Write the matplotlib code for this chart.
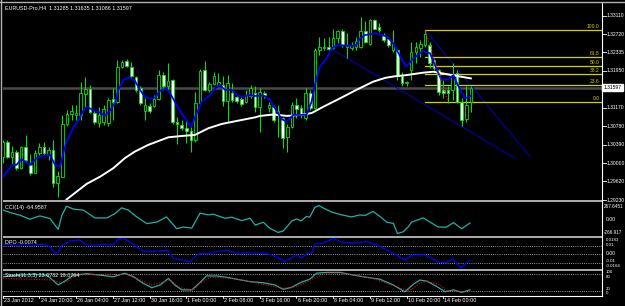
import matplotlib
matplotlib.use("Agg")
import matplotlib.pyplot as plt
from matplotlib.lines import Line2D
from matplotlib.patches import Rectangle

# ---------------- data ----------------
opens = [1.3014,1.3046,1.3014,1.3025,1.2990,1.3034,1.2997,1.2980,1.3021,1.3034,
1.3018,1.3028,1.2959,1.2972,1.3083,1.3104,1.3102,1.3102,1.3146,1.3156,
1.3106,1.3086,1.3088,1.3086,1.3135,1.3130,1.3202,1.3216,1.3204,1.3181,
1.3158,1.3111,1.3121,1.3121,1.3135,1.3186,1.3162,1.3176,1.3088,1.3081,
1.3075,1.3069,1.3049,1.3127,1.3197,1.3155,1.3167,1.3165,1.3165,1.3132,
1.3149,1.3140,1.3135,1.3130,1.3142,1.3148,1.3119,1.3149,1.3117,1.3119,
1.3102,1.3095,1.3056,1.3077,1.3123,1.3116,1.3095,1.3148,1.3116,1.3239,
1.3242,1.3246,1.3242,1.3265,1.3279,1.3246,1.3244,1.3246,1.3246,1.3279,
1.3251,1.3302,1.3288,1.3270,1.3261,1.3239,1.3239,1.3183,1.3169,1.3197,
1.3235,1.3244,1.3249,1.3249,1.3218,1.3197,1.3155,1.3155,1.3155,1.3190,
1.3130,1.3093,1.31285]
highs = [1.3049,1.3049,1.3037,1.3028,1.3037,1.3060,1.3020,1.3028,1.3042,1.3046,
1.3035,1.3049,1.2983,1.3102,1.3112,1.3123,1.3123,1.3172,1.3181,1.3165,
1.3112,1.3119,1.3123,1.3137,1.3158,1.3218,1.3218,1.3219,1.3214,1.3184,
1.3162,1.3137,1.3127,1.3144,1.3197,1.3193,1.3212,1.3177,1.3098,1.3091,
1.3091,1.3077,1.3151,1.3198,1.3216,1.3172,1.3193,1.3190,1.3184,1.3186,
1.3169,1.3144,1.3139,1.3155,1.3165,1.3162,1.3158,1.3152,1.3130,1.3124,
1.3123,1.3098,1.3082,1.3130,1.3137,1.3123,1.3158,1.3155,1.3242,1.3267,
1.3263,1.3267,1.3284,1.3281,1.3284,1.3274,1.3255,1.3267,1.3309,1.3300,
1.3305,1.3305,1.3295,1.3274,1.3263,1.3281,1.3240,1.3193,1.3173,1.3256,
1.3256,1.3260,1.3281,1.3256,1.3221,1.3198,1.3176,1.3162,1.3211,1.3197,
1.3137,1.3162,1.31635]
lows = [1.3000,1.3011,1.2997,1.2986,1.2988,1.3004,1.2976,1.2979,1.3018,1.3018,
1.3007,1.2951,1.2930,1.2971,1.3079,1.3091,1.3091,1.3091,1.3119,1.3107,
1.3084,1.3076,1.3081,1.3079,1.3091,1.3127,1.3200,1.3204,1.3179,1.3151,
1.3123,1.3091,1.3107,1.3118,1.3134,1.3155,1.3155,1.3084,1.3041,1.3070,
1.3042,1.3025,1.3046,1.3123,1.3153,1.3151,1.3165,1.3162,1.3121,1.3088,
1.3130,1.3128,1.3121,1.3127,1.3137,1.3109,1.3067,1.3137,1.3109,1.3087,
1.3056,1.3032,1.3025,1.3074,1.3095,1.3095,1.3091,1.3112,1.3115,1.3228,
1.3239,1.3239,1.3241,1.3253,1.3246,1.3221,1.3239,1.3239,1.3244,1.3253,
1.3249,1.3283,1.3277,1.3256,1.3246,1.3235,1.3176,1.3162,1.3162,1.3176,
1.3211,1.3225,1.3246,1.3200,1.3197,1.3144,1.3137,1.3127,1.3134,1.3127,
1.3079,1.3088,1.31086]
closes = [1.3046,1.3014,1.3025,1.2990,1.3034,1.3007,1.2980,1.3021,1.3034,1.3021,
1.3028,1.2959,1.2974,1.3083,1.3104,1.3110,1.3106,1.3148,1.3156,1.3109,
1.3087,1.3102,1.3114,1.3134,1.3130,1.3202,1.3214,1.3205,1.3183,1.3155,
1.3127,1.3123,1.3111,1.3135,1.3186,1.3162,1.3173,1.3088,1.3083,1.3074,
1.3068,1.3049,1.3127,1.3195,1.3155,1.3167,1.3183,1.3172,1.3132,1.3169,
1.3134,1.3132,1.3125,1.3144,1.3158,1.3119,1.3150,1.3143,1.3124,1.3091,
1.3110,1.3054,1.3077,1.3123,1.3115,1.3102,1.3148,1.3117,1.3239,1.3246,
1.3246,1.3241,1.3265,1.3279,1.3249,1.3249,1.3249,1.3258,1.3279,1.3256,
1.3302,1.3284,1.3281,1.3260,1.3249,1.3251,1.3183,1.3169,1.3171,1.3235,
1.3246,1.3251,1.3272,1.3211,1.3200,1.3151,1.3148,1.3149,1.3186,1.3130,
1.3091,1.3123,1.31597]

# fast (blue) moving average, vertices (bar, price)
ma_fast_x = [0.1,2.0,3.0,4.1,5.9,7.4,8.8,10.3,11.4,12.5,13.2,13.9,15.4,16.5,17.6,18.4,19.7,21.2,22.3,23.4,
             24.5,25.2,26.3,27.6,28.8,29.9,31.0,32.1,33.2,34.3,35.7,36.8,38.3,39.7,41.0,42.3,43.4,45.2,46.3,47.3,
             48.4,49.9,51.3,52.4,53.5,55.0,56.8,58.2,59.7,60.8,61.9,63.3,64.8,66.2,67.3,68.0,69.1,70.6,71.7,72.9,
             75.7,77.0,77.8,78.9,81.1,82.6,83.7,85.1,86.6,87.9,89.5,91.6,93.1,94.6,95.6,97.1,98.2,99.3,100.7,102.0]
ma_fast_y = [1.2972,1.2997,1.2997,1.3009,1.2997,1.3011,1.3016,1.3018,1.2997,1.2993,1.3021,1.3046,1.3076,1.3091,1.3112,1.3119,1.3112,1.3107,1.3100,1.3112,
             1.3127,1.3155,1.3176,1.3181,1.3174,1.3155,1.3140,1.3136,1.3139,1.3153,1.3158,1.3142,1.3116,1.3095,1.3077,1.3106,1.3130,1.3144,1.3158,1.3165,
             1.3155,1.3155,1.3142,1.3140,1.3144,1.3142,1.3143,1.3134,1.3110,1.3093,1.3088,1.3102,1.3102,1.3103,1.3130,1.3165,1.3204,1.3221,1.3242,1.3249,
             1.3248,1.3248,1.3263,1.3270,1.3274,1.3270,1.3267,1.3253,1.3225,1.3204,1.3221,1.3237,1.3232,1.3197,1.3176,1.3177,1.3186,1.3162,1.3137,1.3142]

# slow (white) moving average, vertices (bar, price)
ma_slow_x = [13.9,18.3,21.2,24.1,26.6,28.8,31.7,36.1,39.3,41.9,44.8,47.7,51.3,55.0,56.1,59.0,61.9,64.8,67.3,69.8,
             73.5,77.1,80.7,83.3,85.1,88.0,91.6,93.8,96.7,99.6,102.0]
ma_slow_y = [1.2924,1.2957,1.2972,1.2990,1.3011,1.3025,1.3039,1.3055,1.3058,1.3060,1.3074,1.3083,1.3090,1.3097,1.3100,1.3103,1.3100,1.3102,1.3106,1.3119,
             1.3137,1.3155,1.3172,1.3180,1.3183,1.3186,1.3191,1.3193,1.3188,1.3183,1.3179]

# drawn objects
trend_x = [[72.0, 111.6], [92.0, 114.9]]
trend_y = [[1.3239, 1.3011], [1.3281, 1.3014]]
fib_bars = [92, 97]
fib_prices = [1.3281, 1.3130]
fib_levels = [0.0, 23.6, 38.2, 50.0, 61.8, 100.0]
last_price = 1.31597

# CCI(14)
cci_x = [0.1,2.3,3.8,5.9,8.1,10.3,12.1,12.9,13.9,15.4,17.6,20.1,22.7,24.5,25.9,27.4,29.2,31.4,33.6,35.7,
         37.9,39.3,41.2,41.9,43.0,44.8,45.9,48.4,49.9,52.1,53.9,55.0,56.8,58.2,60.0,61.1,63.0,64.1,65.0,66.2,
         66.9,68.0,68.9,69.9,71.7,73.9,76.0,77.8,78.9,80.7,82.2,83.7,85.1,86.0,87.3,88.4,89.1,90.2,91.6,93.1,
         94.9,96.7,98.2,100.0,101.8]
cci_y = [180,116,83,6,70,19,-188,83,255,200,180,31,31,116,225,180,50,-78,-47,50,
         -175,-144,-163,-52,122,89,103,25,45,-19,25,-105,-52,-169,-246,-221,-27,12,-27,58,
         45,233,267.6,219,142,89,50,89,78,155,58,-52,-72,-266.9,-233,-136,-47,-14,31,-47,
         -144,-144,-58,-175,-64.96]

# DPO
dpo_x = [0.1,3.8,6.7,8.8,10.3,11.4,12.1,12.9,14.7,16.8,18.3,20.5,22.7,24.1,25.2,26.6,28.1,29.2,30.6,32.1,
         33.9,35.7,37.2,39.0,40.8,42.3,43.0,44.4,46.6,48.8,51.0,53.2,55.7,57.1,58.6,60.4,61.5,62.6,64.1,65.1,
         66.2,67.3,68.0,69.8,72.0,74.2,77.1,79.3,81.5,83.7,85.8,87.6,89.1,92.0,93.5,94.9,96.7,98.0,99.8,101.8]
dpo_y = [0.0114,0.0106,0.0106,0.0114,0.0086,0.0008,0.0020,0.0106,0.0153,0.0165,0.0106,0.0106,0.0114,0.0106,0.0178,0.0175,0.0126,0.0086,0.0035,0.0027,
         0.0035,0.0047,-0.0051,-0.0071,-0.0091,-0.0012,0.0008,0.0000,0.0027,0.0047,0.0008,0.0015,0.0008,0.0015,-0.0012,-0.0051,-0.0091,-0.0051,-0.0012,-0.0051,
         0.0008,0.0008,0.0118,0.0126,0.0183,0.0133,0.0133,0.0145,0.0106,0.0047,-0.0012,-0.0071,-0.0012,-0.0012,-0.0051,-0.0098,-0.0098,-0.0059,-0.0160,-0.0074]

# Stochastic(11,3,3)
st_main_x = [0.1,3.8,6.7,9.6,12.1,13.9,15.4,18.3,21.2,24.1,26.6,28.5,30.6,32.5,34.3,36.1,37.5,39.0,41.2,43.0,
             44.4,46.6,48.8,51.0,53.9,56.8,59.3,61.1,62.9,64.8,66.9,68.4,70.6,73.5,76.4,79.3,82.2,85.1,87.6,89.5,
             90.9,92.4,94.6,96.4,98.2,100.0,101.8]
st_main_y = [71,77,80,77,41,59,77,82,77,71,84,71,47,31,41,65,41,23,23,50,
             74,74,69,62,53,49,41,25,32,49,62,84,87,87,77,69,62,41,16,44,
             59,55,35,16,23,14,23.08]
st_sig_x = [0.1,11.0,12.1,13.9,15.8,21.2,27.0,29.9,32.5,36.5,38.6,41.5,43.0,45.2,50.2,61.1,64.1,67.7,70.6,74.2,
            80.7,86.6,88.7,90.9,92.4,95.3,96.7,98.9,101.1,101.8]
st_sig_y = [65,59,51,51,77,80,80,59,41,59,31,23,47,69,65,29,35,65,84,84,
            65,29,21,47,55,41,19,19,14,19.08]

time_labels = ["23 Jan 2012", "24 Jan 20:00", "26 Jan 04:00", "27 Jan 12:00", "30 Jan 16:00",
               "1 Feb 00:00", "2 Feb 08:00", "3 Feb 16:00", "6 Feb 20:00", "8 Feb 04:00",
               "9 Feb 12:00", "10 Feb 20:00", "14 Feb 00:00"]
time_label_bars = [0, 8, 16, 24, 32, 40, 48, 56, 64, 72, 80, 88, 96]
price_ticks = [1.33110, 1.32720, 1.32335, 1.31950, 1.31170, 1.30780, 1.30390, 1.30000, 1.29620, 1.29230]
price_tick_labels = ["1.33110", "1.32720", "1.32335", "1.31950", "1.31170", "1.30780", "1.30390", "1.30000", "1.29620", "1.29230"]

title_text = "EURUSD-Pro,H4  1.31285 1.31635 1.31086 1.31597"

# ---------------- figure ----------------
W, H = 625, 306
fig = plt.figure(figsize=(W / 100, H / 100), dpi=100, facecolor="black")
FONT = "Liberation Sans"
FS = 3.9
WHITE = "#ffffff"

def add_ax(top, bottom):
    ax = fig.add_axes([3 / W, 1 - bottom / H, 599 / W, (bottom - top) / H])
    ax.set_facecolor("black")
    for s in ax.spines.values():
        s.set_visible(False)
    ax.set_xticks([]); ax.set_yticks([])
    ax.set_xlim(0.065, 130.57)
    return ax

def ftext(x, y, s, **kw):
    kw.setdefault("color", WHITE)
    kw.setdefault("fontsize", FS)
    kw.setdefault("family", FONT)
    fig.text(x / W, 1 - y / H, s, **kw)

ax = add_ax(3, 200)
ax.set_ylim(1.29230, 1.33377)

# current price line
ax.axhline(last_price, color="#4a4a4a", lw=1.8, zorder=1)

# candles
up_col = "#00e600"
for i in range(len(opens)):
    o, h, l, c = opens[i], highs[i], lows[i], closes[i]
    ax.vlines(i, l, h, color=up_col, lw=0.75, zorder=3)
    bot = min(o, c)
    hgt = max(abs(c - o), 0.00004)
    ax.bar(i, hgt, bottom=bot, width=0.56, facecolor=("white" if c < o else "black"),
           edgecolor=up_col, linewidth=0.6, zorder=4)

ax.plot(ma_slow_x, ma_slow_y, color="white", lw=1.4, zorder=5)
ax.plot(ma_fast_x, ma_fast_y, color="#0000ff", lw=1.3, zorder=5)

for tx, ty in zip(trend_x, trend_y):
    ax.plot(tx, ty, color="#0000c8", lw=0.7, zorder=2)

# fibonacci
fh, fl = fib_prices[0], fib_prices[1]
for lv in fib_levels:
    p = fl + (fh - fl) * lv / 100.0
    ax.plot([fib_bars[0], 130.57], [p, p], color="#d0d000", lw=0.9, zorder=2)
    ax.text(130.1, p + 0.00018, f"{lv:.1f}", color="#d0d000", fontsize=3.6, family=FONT,
            ha="right", va="bottom", zorder=6)
ax.plot(fib_bars, fib_prices, color="#ff0000", lw=0.8, ls=(0, (1, 1.5)), zorder=6)

# price axis labels
ytr = ax.get_yaxis_transform()
for p, lab in zip(price_ticks, price_tick_labels):
    ax.plot([1.0, 1.006], [p, p], color=WHITE, lw=0.6, transform=ytr, clip_on=False)
    ax.text(1.0075, p, lab, color=WHITE, fontsize=3.6, family=FONT, va="center", ha="left",
            transform=ytr, clip_on=False)
ax.text(1.0025, last_price, "1.31597", color="black", fontsize=3.6, family=FONT, va="center", ha="left",
        transform=ytr, clip_on=False,
        bbox=dict(boxstyle="square,pad=0.25", facecolor="white", edgecolor="white"))
ftext(5, 7.5, title_text, va="center", ha="left")

# CCI
ax_c = add_ax(202, 235.5)
ax_c.set_ylim(-305, 336)
ax_c.plot(cci_x, cci_y, color="#20b2aa", lw=0.9)
ftext(5, 208, "CCI(14) -64.9587", va="center")
ftext(604, 206.5, "267.6451", va="center", fontsize=3.3)
ftext(606, 219.3, "0.00", va="center", fontsize=3.6)
ftext(604, 232.0, "-266.917", va="center", fontsize=3.3)

# DPO
ax_d = add_ax(237.5, 269)
ax_d.set_ylim(-0.0176, 0.0194)
for lv in (0.01, 0.0, -0.01):
    ax_d.axhline(lv, color="#c8c8c8", lw=0.6, ls=(0, (1, 1.6)))
ax_d.plot(dpo_x, dpo_y, color="#0000ff", lw=0.9)
ftext(5, 242.7, "DPO -0.0074", va="center")
ftext(606, 239.8, "0.0183", va="center", fontsize=3.2)
ftext(606, 244.6, "0.01", va="center", fontsize=3.2)
ftext(606, 253.7, "0.00", va="center", fontsize=3.6)
ftext(606, 261.0, "-0.01", va="center", fontsize=3.2)
ftext(606, 265.8, "-0.0166", va="center", fontsize=3.2)

# Stochastic
ax_s = add_ax(271, 295.5)
ax_s.set_ylim(2.4, 92.1)
for lv in (80, 20):
    ax_s.axhline(lv, color="#c8c8c8", lw=0.6, ls=(0, (1, 1.6)))
ax_s.plot(st_main_x, st_main_y, color="#20b2aa", lw=0.9)
ax_s.plot(st_sig_x, st_sig_y, color="#ff0000", lw=0.8, ls=(0, (1, 1.3)))
ftext(5, 275.5, "Stoch(11,3,3) 23.0782 19.0764", va="center")
ftext(606, 272.3, "100", va="center", fontsize=3.2)
ftext(606, 277.1, "80", va="center", fontsize=3.2)
ftext(606, 288.6, "20", va="center", fontsize=3.2)
ftext(606, 293.4, "0", va="center", fontsize=3.2)

# time axis
xtr = ax_s.get_xaxis_transform()
for b, lab in zip(time_label_bars, time_labels):
    ax_s.plot([b, b], [0, -0.09], color=WHITE, lw=0.6, transform=xtr, clip_on=False)
    ax_s.text(b + 0.25, -0.2, lab, color=WHITE, fontsize=FS, family=FONT, ha="left", va="center",
              transform=xtr, clip_on=False)

# separators, frame and axis lines
for (y0, y1) in [(200, 202), (235.5, 237.5), (269, 271)]:
    fig.add_artist(Rectangle((3 / W, 1 - y1 / H), 599 / W, (y1 - y0) / H, transform=fig.transFigure,
                             facecolor="#a8a8a8", edgecolor="none"))
fig.add_artist(Line2D([602 / W, 602 / W], [1 - 2.5 / H, 1 - 296 / H], color=WHITE, lw=0.8, transform=fig.transFigure))
fig.add_artist(Line2D([3 / W, 602 / W], [1 - 295.8 / H, 1 - 295.8 / H], color=WHITE, lw=0.8, transform=fig.transFigure))
fig.add_artist(Line2D([1.5 / W, 1.5 / W], [0, 1], color="#b0b0b0", lw=1.0, transform=fig.transFigure))
fig.add_artist(Line2D([0, 1], [1 - 1.5 / H, 1 - 1.5 / H], color="#b0b0b0", lw=1.0, transform=fig.transFigure))

fig.savefig("out.png", dpi=100, facecolor="black")
